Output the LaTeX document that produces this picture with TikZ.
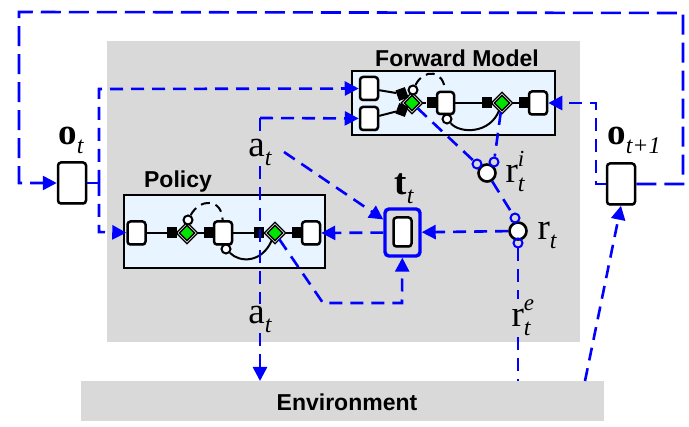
\documentclass[tikz,border=0pt]{standalone}
\usepackage{fontspec}
\setmainfont{Liberation Serif}
\newfontfamily\headfont{Liberation Sans}
\usetikzlibrary{arrows.meta,shapes.geometric,shadows}

\definecolor{netfill}{RGB}{232,244,255}
\newcommand{\termlabel}[3]{{\fontsize{37}{39}\selectfont #1}\rlap{\raisebox{16pt}{\fontsize{23}{23}\selectfont\itshape #3}}\raisebox{-9pt}{\fontsize{24}{24}\selectfont\itshape #2}}

\tikzset{
    panel/.style={fill=black!15, draw=none},
    netbox/.style={draw=black, line width=1.2pt, fill=netfill, drop shadow={shadow xshift=0.6pt, shadow yshift=-1.5pt, opacity=0.4}},
    unit/.style={draw=black, line width=2.5pt, fill=white, rounded corners=3pt, inner sep=0pt, drop shadow={shadow xshift=0.6pt, shadow yshift=-1.5pt, opacity=0.4}},
    gate/.style={fill=black, inner sep=0pt, minimum width=10pt, minimum height=11pt},
    mixer/.style={diamond, draw=black, double=white, double distance=0.6pt, line width=1.5pt, fill=green!90!black, inner sep=0pt, minimum size=19pt},
    tap/.style={circle, draw=black, line width=2pt, fill=white, inner sep=0pt, minimum size=9pt},
    sum/.style={circle, draw=black, line width=2.6pt, fill=white, inner sep=0pt, minimum size=17pt, drop shadow={shadow xshift=0.6pt, shadow yshift=-1.5pt, opacity=0.4}},
    port/.style={circle, draw=blue, line width=2pt, inner sep=0pt, minimum size=9pt},
    wire/.style={draw=black, line width=2pt},
    flow/.style={draw=blue, line width=2.6pt, dash pattern=on 13pt off 8pt},
    head/.style={font=\headfont\bfseries\fontsize{23}{23}\selectfont, inner sep=0pt},
    term/.style={inner sep=1pt},
    tip/.style={-{Triangle[length=14pt,width=14pt]}}
}

\begin{document}
\begin{tikzpicture}[x=1pt, y=-1pt]
    \useasboundingbox (0,0) rectangle (689,427);

    % Gray panels
    \fill[panel] (107,41) rectangle (580,342);
    \node[panel, minimum width=523pt, minimum height=40pt, inner sep=0pt] (env) at (342.5,401) {};
    \node[head] (envtext) at (347,402) {Environment};

    % Network boxes
    \node[netbox, minimum width=203pt, minimum height=64pt, inner sep=0pt] (fbox) at (453.5,103) {};
    \node[netbox, minimum width=201pt, minimum height=73pt, inner sep=0pt] (pbox) at (224.5,231.5) {};
    \node[head] (ftext) at (457,58) {Forward Model};
    \node[head] (ptext) at (178,182) {Policy};

    % Forward model nodes
    \node[unit, minimum width=18pt, minimum height=23pt] (fa) at (369,88.5) {};
    \node[unit, minimum width=18pt, minimum height=23pt] (fb) at (369,118.5) {};
    \node[unit, minimum width=17pt, minimum height=22pt] (fmid) at (445.5,103) {};
    \node[unit, minimum width=18pt, minimum height=23pt] (fout) at (538,103) {};
    \node[mixer] (fd1) at (412,103) {};
    \node[mixer] (fd2) at (502,103) {};
    \node[gate, rotate=20] (fg1) at (402,94) {};
    \node[gate, rotate=-20] (fg2) at (402,110) {};
    \foreach \n/\x in {fg3/431.5, fg4/487, fg5/524} {
        \node[gate] (\n) at (\x,103) {};
    }
    \node[tap] (ftap1) at (413,90) {};
    \node[tap] (ftap2) at (447,119) {};

    % Policy nodes
    \node[unit, minimum width=18pt, minimum height=23pt] (pin) at (136.5,233) {};
    \node[unit, minimum width=18pt, minimum height=23pt] (pmid) at (223,233) {};
    \node[unit, minimum width=18pt, minimum height=23pt] (pout) at (311,233) {};
    \node[mixer] (pd1) at (187,233) {};
    \node[mixer] (pd2) at (275,233) {};
    \foreach \n/\x in {pg1/172, pg2/209, pg3/259, pg4/297} {
        \node[gate] (\n) at (\x,233) {};
    }
    \node[tap] (ptap1) at (188,220) {};
    \node[tap] (ptap2) at (226,249) {};

    % Black wires
    \draw[wire] (fa) -- (fg1) -- (fd1) -- (fg2) -- (fb);
    \draw[wire] (fd1) -- (fg3) -- (fmid) -- (fg4) -- (fd2) -- (fg5) -- (fout);
    \draw[wire] (pin) -- (pg1) -- (pd1) -- (pg2) -- (pmid) -- (pg3) -- (pd2) -- (pg4) -- (pout);
    \draw[wire] (ftap2) .. controls (460,134) and (490,134) .. (fd2);
    \draw[wire] (ptap2) .. controls (240,263) and (262,263) .. (pd2);
    \draw[wire, dash pattern=on 9pt off 6pt] (ftap1) .. controls (424,68) and (444,70) .. (fmid);
    \draw[wire, dash pattern=on 9pt off 6pt] (ptap1) .. controls (200,198) and (222,198) .. (pmid);

    % Observations, state and reward
    \node[unit, minimum width=28pt, minimum height=41pt] (ot) at (72,183) {};
    \node[unit, minimum width=28pt, minimum height=41pt] (onext) at (621,184) {};
    \node[draw=blue, line width=3.4pt, rounded corners=4pt, minimum width=35pt, minimum height=47pt, inner sep=0pt] (tt) at (402.5,232.5) {};
    \node[unit, minimum width=18pt, minimum height=29pt] (ttin) at (402.5,232) {};
    \node[sum] (ri) at (487,173) {};
    \node[sum] (rt) at (518,231) {};
    \node[port] (riA) at (477,164) {};
    \node[port] (riB) at (494,162) {};
    \node[port] (rtA) at (515,218) {};
    \node[port] (rtB) at (518,243) {};

    % Text labels
    \node[term] (otlabel) at (71,140) {\termlabel{\bfseries o}{t}{}};
    \node[term] (onextlabel) at (634,140) {\termlabel{\bfseries o}{t+1}{}};
    \node[term] (ttlabel) at (404,189) {\termlabel{\bfseries t}{t}{}};
    \node[term] (aup) at (260,152) {\termlabel{a}{t}{}};
    \node[term] (adown) at (260,319) {\termlabel{a}{t}{}};
    \node[term] (rilabel) at (515,172) {\termlabel{r}{t}{i}};
    \node[term] (rtlabel) at (547,235) {\termlabel{r}{t}{}};
    \node[term] (relabel) at (521,318) {\termlabel{r}{t}{e}};

    % Bend points
    \coordinate (split) at (99,183);
    \coordinate (splitup) at (99,89);
    \coordinate (splitdown) at (99,232);
    \coordinate (topright) at (683,13);
    \coordinate (lowright) at (683,184);
    \coordinate (topleft) at (19,12);
    \coordinate (lowleft) at (19,183);
    \coordinate (backbend) at (596,184);
    \coordinate (backtop) at (596,103);
    \coordinate (abend) at (260,118);
    \coordinate (loopa) at (323,303);
    \coordinate (loopb) at (402,303);
    \coordinate (atstart) at (284,152);
    \coordinate (abot) at (260,381);
    \coordinate (rbot) at (518,381);
    \coordinate (obot) at (585,381);

    % Blue flows
    \draw[flow, dash pattern=on 20pt off 8pt, tip] (onext) -- (lowright) -- (topright) -- (topleft) -- (lowleft) -- (ot);
    \draw[flow, dash pattern=on 30pt off 0pt] (ot) -- (split);
    \draw[flow, tip] (split) -- (splitup) -- (fa);
    \draw[flow, tip] (split) -- (splitdown) -- (pin);
    \draw[flow, tip] (onext) -- (backbend) -- (backtop) -- (fout);
    \draw[flow, tip] (abend) -- (fb);
    \draw[flow] (abend) -- (aup);
    \draw[flow] (aup) -- (adown);
    \draw[flow, tip] (adown) -- (abot);
    \draw[flow, tip] (atstart) -- (tt);
    \draw[flow, tip] (tt) -- (pout);
    \draw[flow, tip] (rt) -- (tt);
    \draw[flow, tip] (pd2) -- (loopa) -- (loopb) -- (tt);
    \draw[flow] (fd1) -- (riA);
    \draw[flow] (fd2) -- (riB);
    \draw[flow] (ri) -- (rtA);
    \draw[flow] (rtB) -- (rtB |- relabel.north);
    \draw[flow] (rtB |- relabel.south) -- (rbot);
    \draw[flow, tip] (obot) -- (onext.south);
\end{tikzpicture}
\end{document}
